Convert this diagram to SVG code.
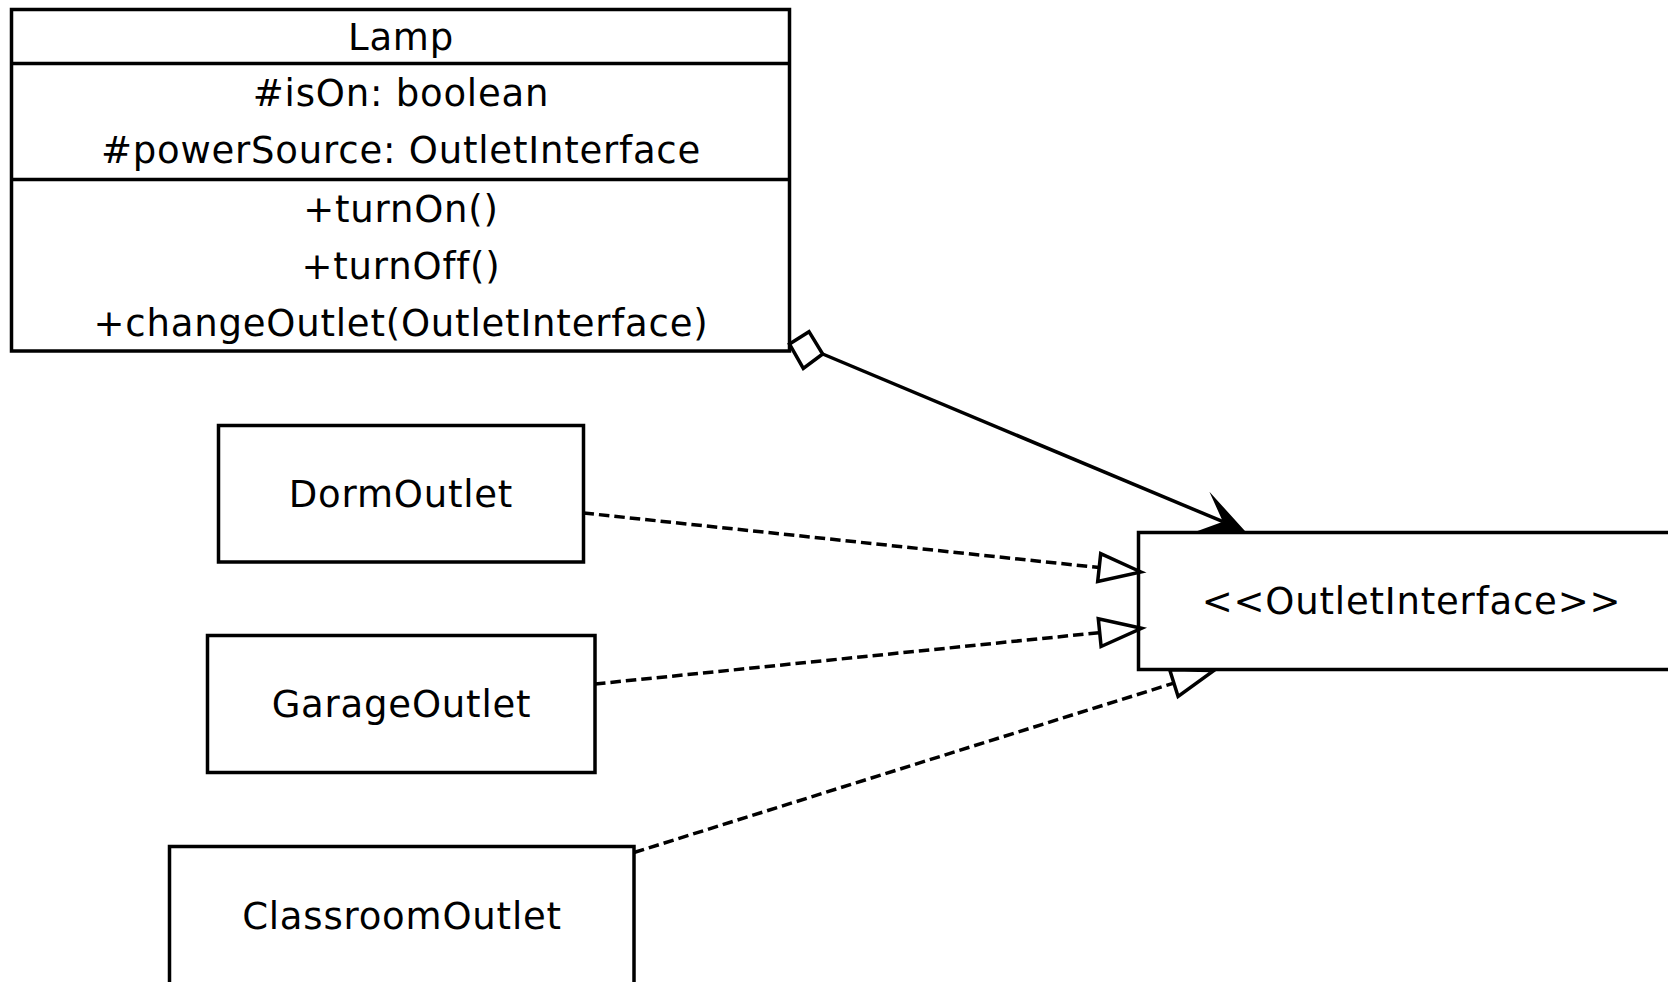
<svg xmlns="http://www.w3.org/2000/svg" width="1668" height="982" viewBox="0 0 1668 982">
  <style>
    .box { fill: #ffffff; stroke: #000000; stroke-width: 3.5; }
    .sep { stroke: #000000; stroke-width: 3.5; }
    .label { font-family: "DejaVu Sans", "Liberation Sans", sans-serif; font-size: 37px; letter-spacing: 0.8px; fill: #000000; text-anchor: middle; }
    .assoc { fill: none; stroke: #000000; stroke-width: 3.5; }
    .realize { fill: none; stroke: #000000; stroke-width: 3.5; stroke-dasharray: 10.5 5; }
    .hollow { fill: #ffffff; stroke: #000000; stroke-width: 3.5; stroke-linejoin: miter; }
    .filled { fill: #000000; stroke: none; }
  </style>
  <rect width="1668" height="982" fill="#ffffff"/>

  <!-- Lamp class -->
  <g id="lamp">
    <rect class="box" x="11.5" y="9.5" width="778" height="341.5"/>
    <line class="sep" x1="11.5" y1="63.5" x2="789.5" y2="63.5"/>
    <line class="sep" x1="11.5" y1="179.5" x2="789.5" y2="179.5"/>
    <text class="label" x="401" y="49.5">Lamp</text>
    <text class="label" x="401" y="106">#isOn: boolean</text>
    <text class="label" x="401" y="163">#powerSource: OutletInterface</text>
    <text class="label" x="401" y="222">+turnOn()</text>
    <text class="label" x="401" y="278.5">+turnOff()</text>
    <text class="label" x="401" y="335.5">+changeOutlet(OutletInterface)</text>
  </g>

  <!-- Outlet implementations -->
  <g id="dorm-outlet">
    <rect class="box" x="218.5" y="425.5" width="365" height="136.5"/>
    <text class="label" x="401" y="507">DormOutlet</text>
  </g>
  <g id="garage-outlet">
    <rect class="box" x="207.5" y="635.5" width="387.5" height="137"/>
    <text class="label" x="401.5" y="717">GarageOutlet</text>
  </g>
  <g id="classroom-outlet">
    <rect class="box" x="169.5" y="846.5" width="464.5" height="138"/>
    <text class="label" x="402" y="928.5">ClassroomOutlet</text>
  </g>

  <!-- Interface -->
  <g id="outlet-interface">
    <rect class="box" x="1138.5" y="532.5" width="546" height="137"/>
    <text class="label" x="1411.5" y="614">&lt;&lt;OutletInterface&gt;&gt;</text>
  </g>

  <!-- Connectors -->
  <g id="connectors">
    <!-- Lamp aggregation to OutletInterface -->
    <line class="assoc" x1="822.7" y1="354" x2="1223" y2="521.7"/>
    <polygon class="hollow" points="789.5,344 809,331.7 822.7,354 803.3,368.3"/>
    <polygon class="filled" points="1245,531 1209.4,491.7 1222.9,521.7 1192,533.1"/>

    <!-- DormOutlet realizes OutletInterface -->
    <line class="realize" x1="583.5" y1="513" x2="1099.2" y2="567.6"/>
    <polygon class="hollow" points="1141,572 1100.7,553.7 1097.7,581.5"/>

    <!-- GarageOutlet realizes OutletInterface -->
    <line class="realize" x1="595" y1="684" x2="1099.7" y2="632.6"/>
    <polygon class="hollow" points="1141.5,628.3 1098.3,618.7 1101.1,646.5"/>

    <!-- ClassroomOutlet realizes OutletInterface -->
    <line class="realize" x1="634" y1="852.5" x2="1173.9" y2="683.1"/>
    <polygon class="hollow" points="1214,670.5 1169.7,669.7 1178.1,696.5"/>
  </g>
</svg>
